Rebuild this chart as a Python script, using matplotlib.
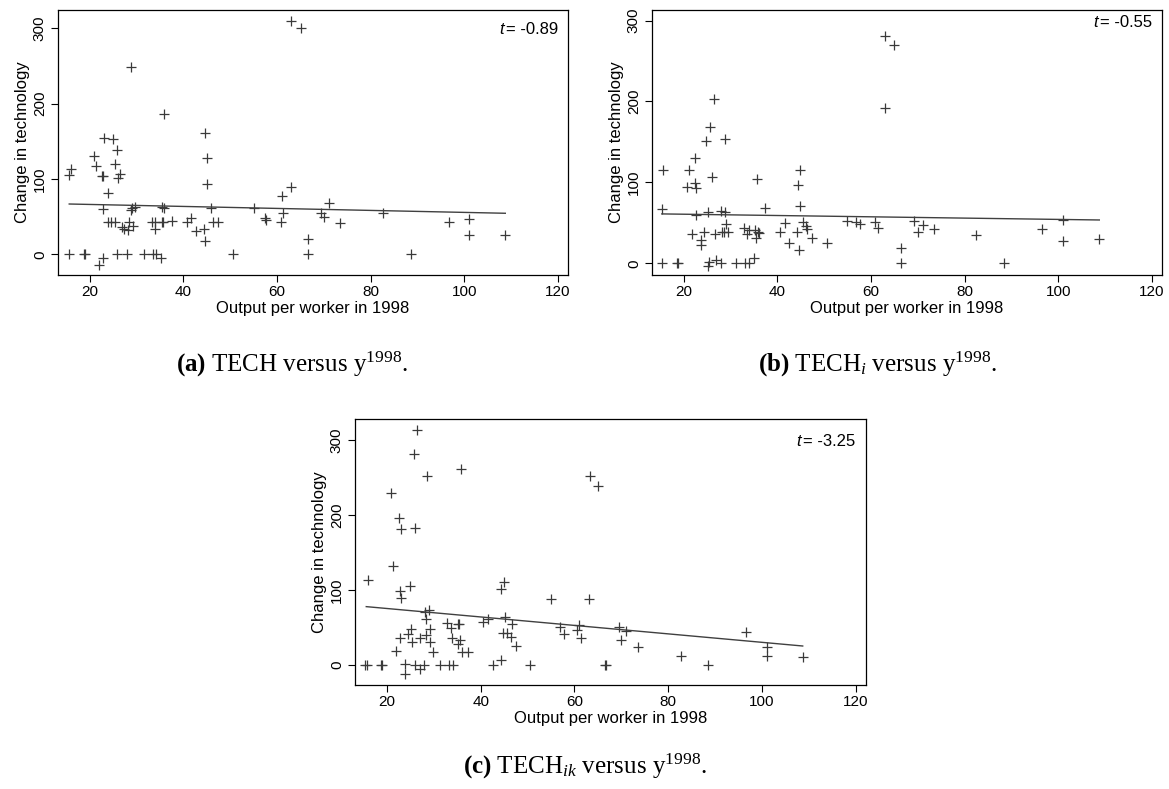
import numpy as np
import matplotlib
matplotlib.use("Agg")
import matplotlib.pyplot as plt

plt.rcParams['font.family'] = ['Liberation Sans', 'DejaVu Sans']
plt.rcParams['mathtext.fontset'] = 'custom'
plt.rcParams['mathtext.rm'] = 'Liberation Serif'
plt.rcParams['mathtext.it'] = 'Liberation Serif:italic'
plt.rcParams['mathtext.bf'] = 'Liberation Serif:bold'

# panel (a): TECH versus y1998
a_x = [15.6, 16.0, 15.6, 18.8, 19.0, 20.9, 21.4, 21.9, 22.9, 22.6, 22.9, 23.1, 22.9, 23.8,
       23.8, 24.5, 25.3, 25.0, 25.9, 25.4, 26.0, 26.4, 25.8, 26.9, 27.2, 28.0, 28.2, 28.4,
       28.8, 28.8, 29.1, 29.3, 29.7, 31.6, 33.2, 33.5, 33.9, 34.0, 34.2, 35.3, 35.4, 35.9,
       35.8, 35.5, 35.7, 37.6, 40.7, 41.6, 42.6, 44.4, 44.6, 45.1, 45.1, 44.7, 45.8, 46.3,
       47.4, 50.6, 55.0, 57.4, 57.7, 60.8, 61.0, 61.3, 63.1, 63.1, 65.1, 66.6, 66.6, 69.5,
       70.0, 71.1, 73.5, 82.6, 88.6, 96.7, 101.0, 101.1, 108.8]
a_y = [105, 113, 0, 0, 0, 131, 117, -14, -5, 104, 104, 154, 60, 82,
       42.5, 42.5, 42.5, 153, 138.5, 119.5, 102, 106, 0, 36.7, 34, 0, 32, 42.5,
       249, 59, 62, 37, 63, 0, 42.5, 0, 34, 42.5, 0, -5, 63, 62,
       187, 42.5, 42.5, 44, 42.5, 48, 31, 34, 161.5, 127.5, 94, 17, 61, 42.5,
       42.5, 0, 61, 48, 46, 42.5, 78, 55, 90, 310, 300, 20, 0, 55,
       50, 68, 42, 54.5, 0, 42.5, 47, 25, 25]

# panel (b): TECH_i versus y1998
b_x = [15.65, 15.3, 15.4, 18.5, 18.7, 20.6, 21.2, 21.8, 22.4, 22.4, 22.6, 22.5, 23.6, 23.6,
       24.3, 24.8, 25.1, 25.1, 25.4, 25.7, 26.1, 26.4, 26.7, 26.8, 27.9, 27.9, 28.7, 28.7,
       28.1, 28.6, 29.5, 29.1, 31.2, 32.9, 33.1, 33.6, 33.9, 33.9, 35.0, 35.3, 35.5, 35.7,
       35.8, 36.1, 37.4, 40.5, 41.6, 42.4, 44.2, 44.4, 44.9, 44.9, 44.6, 45.5, 46.1, 46.4,
       47.5, 50.5, 54.8, 56.9, 57.6, 60.9, 61.4, 63.0, 64.9, 63.0, 66.4, 66.5, 69.3, 70.0,
       71.1, 73.5, 82.5, 88.5, 96.6, 101.0, 101.0, 108.8]
b_y = [115.7, 66.7, 0, 0, 0, 94.7, 115.7, 35.8, 130.5, 99, 93, 59.7, 28.8, 22,
       39, 151, 63, -3, 1, 168, 106, 203, 36, 4, 0, 65, 63, 153.7,
       39, 39, 39, 48.6, 0, 43, 0, 36, 0, 41, 6, 41, 31, 103.8,
       39, 38, 68.7, 39, 50, 25.5, 39, 96.3, 115.7, 70.7, 16.4, 51.4, 46.5, 42.4,
       31, 25.5, 52.3, 51, 48, 51, 44, 281, 270, 192, 19.4, 0, 52.7, 39,
       47, 42, 35, 0, 42, 53.6, 27.6, 30]

# panel (c): TECH_ik versus y1998
c_x = [15.9, 15.4, 15.7, 18.7, 18.9, 20.9, 21.4, 22.0, 22.5, 23.1, 22.8, 23.1, 22.8, 23.9,
       23.8, 24.5, 25.2, 25.3, 25.0, 26.0, 27.0, 27.0, 28.0, 28.2, 28.9, 28.4, 28.4, 29.1,
       29.1, 29.8, 26.4, 25.8, 26.1, 28.5, 31.4, 33.2, 34.1, 32.9, 33.7, 33.9, 35.1, 35.4,
       35.1, 35.5, 36.0, 37.4, 35.8, 40.5, 41.5, 42.6, 44.4, 44.4, 44.9, 45.1, 44.8, 45.6,
       46.6, 46.5, 47.6, 50.6, 55.0, 57.0, 57.7, 60.6, 60.9, 61.5, 63.1, 66.6, 66.8, 63.4,
       65.1, 69.5, 70.0, 71.1, 73.5, 82.7, 88.5, 96.6, 101.0, 101.0, 108.7]
c_y = [113, 0, 0, 0, 0, 229, 132, 19, 196, 181, 99, 89, 35.5, 1,
       -12.4, 41.3, 47.6, 30, 105.8, 0, -6, 35.5, 0, 71, 73, 61, 40, 47.6,
       31, 17.8, 313, 281, 183, 252, 0, 0, 0, 55.6, 49, 35.5, 55, 55,
       28, 33, 17.8, 17.8, 261, 57, 61, 0, 6.7, 101, 110, 64.4, 42, 42,
       54.7, 37.8, 25.3, 0, 88, 50, 41, 46.7, 53.3, 36.4, 88, 0, 0, 252,
       239, 51, 33, 45, 24.4, 12.4, 0, 43.6, 24.4, 12, 10.2]

# fitted lines (end points)
fit_x = {'a': [15.6, 108.8], 'b': [15.3, 108.8], 'c': [15.6, 108.7]}
fit_y = {'a': [66.8, 54.5], 'b': [61.0, 53.5], 'c': [77.8, 25.3]}
t_stats = {'a': '-0.89', 'b': '-0.55', 'c': '-3.25'}
ylims = {'a': (-27.5, 324.5), 'b': (-14.5, 313), 'c': (-26.7, 328)}

x_ticks = [20, 40, 60, 80, 100, 120]
y_ticks = [0, 100, 200, 300]

W, H = 1169, 789
fig = plt.figure(figsize=(W / 100, H / 100), dpi=100)

# axes boxes in pixels: left, top, right, bottom
boxes = {'a': (58, 10, 568, 275), 'b': (652, 10, 1162, 275), 'c': (355, 419, 866, 685)}
t_pos = {'a': (0.981, 0.928), 'b': (0.980, 0.952), 'c': (0.979, 0.915)}
data = {'a': (a_x, a_y), 'b': (b_x, b_y), 'c': (c_x, c_y)}

for key in ['a', 'b', 'c']:
    l, t, r, b = boxes[key]
    ax = fig.add_axes([l / W, 1 - b / H, (r - l) / W, (b - t) / H])
    xs, ys = data[key]
    ax.plot(xs, ys, linestyle='none', marker='+', markersize=6.5,
            markeredgewidth=0.9, color='#3a3a3a')
    ax.plot(fit_x[key], fit_y[key], color='#404040', linewidth=1.0)
    ax.set_xlim(13.2, 122.2)
    ax.set_ylim(*ylims[key])
    ax.set_xticks(x_ticks)
    ax.set_yticks(y_ticks)
    ax.tick_params(direction='out', length=5, width=0.8, labelsize=11, color='black')
    ax.tick_params(axis='x', pad=2.5)
    ax.tick_params(axis='y', pad=3)
    for lab in ax.get_yticklabels():
        lab.set_rotation(90)
        lab.set_va('center')
    for s in ax.spines.values():
        s.set_linewidth(0.9)
    ax.set_xlabel('Output per worker in 1998', fontsize=12, labelpad=1.5)
    ax.set_ylabel('Change in technology', fontsize=12, labelpad=2)
    tx, ty = t_pos[key]
    txt = ax.text(tx, ty, '= ' + t_stats[key], transform=ax.transAxes,
                  ha='right', va='center', fontsize=12)
    ax.annotate('t', xy=(0, 0.5), xycoords=txt, ha='right', va='center',
                fontsize=12, style='italic', xytext=(-1.5, 0), textcoords='offset points')

cap_font = dict(fontsize=18, family='Liberation Serif', ha='center', va='baseline')
fig.text(292 / W, 1 - 372 / H, r'$\mathbf{(a)}$ TECH versus y$^{1998}$.', **cap_font)
fig.text(878 / W, 1 - 372 / H, r'$\mathbf{(b)}$ TECH$_{i}$ versus y$^{1998}$.', **cap_font)
fig.text(585 / W, 1 - 774 / H, r'$\mathbf{(c)}$ TECH$_{ik}$ versus y$^{1998}$.', **cap_font)

fig.savefig('out.png', dpi=100)
